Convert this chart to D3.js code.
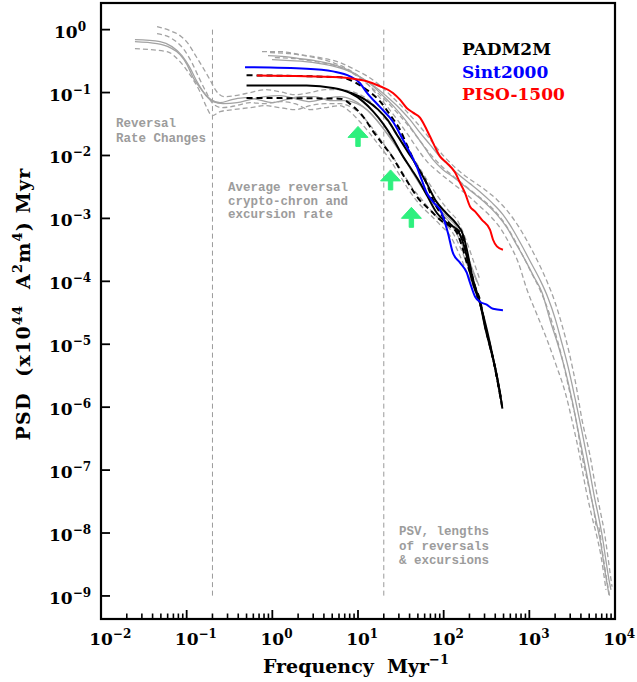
<!DOCTYPE html>
<html>
<head>
<meta charset="utf-8">
<script src="https://cdn.jsdelivr.net/npm/d3@7"></script>
<style>
  body { margin: 0; background: #fff; }
  svg { display: block; }
  text { white-space: pre; }
</style>
</head>
<body>
<svg id="chart" width="637" height="682"></svg>
<script>
// ---------------- data ----------------
// Axis decades (log10 exponents)
const xTickExponents = [-2, -1, 0, 1, 2, 3, 4];
const yTickExponents = [0, -1, -2, -3, -4, -5, -6, -7, -8, -9];

// Regime boundaries (Myr^-1)
const boundaryFreqs = [0.2, 20];

// Green arrows: frequency and PSD of each tip
const arrowFreqs = [10, 24, 42];
const arrowPsd = [0.029, 0.0059, 0.0015];

// Legend
const legendNames = ["PADM2M", "Sint2000", "PISO-1500"];
const legendColors = ["#000000", "#0000ff", "#ff0000"];

// [frequency Myr^-1, PSD] pairs
const sint2000 = [[0.48,0.253],[2.52,0.240],[5.1,0.217],[8.06,0.181],[10.5,0.142],[12.6,0.101],[18.1,0.0586],[25.6,0.0344],[33.5,0.0178],[40.4,0.0111],[48.4,0.00671],[55.3,0.00412],[63.4,0.00256],[75.0,0.00184],[94.8,0.00123],[112,0.000593],[128,0.000285],[155,0.000198],[186,0.000137],[203,9.5e-5],[232,5.75e-5],[265,4.74e-5],[318,4.25e-5],[377,3.66e-5],[492,3.48e-5]];

const piso1500 = [[0.66,0.186],[6.16,0.175],[8.75,0.166],[12.6,0.151],[18.1,0.126],[25.6,0.0986],[30.9,0.0771],[37.0,0.0569],[43.9,0.0479],[52.9,0.0399],[63.4,0.0257],[75.0,0.0160],[90.6,0.00968],[108,0.00769],[136,0.00534],[155,0.00370],[177,0.00256],[203,0.00155],[232,0.00129],[278,0.000953],[347,0.000661],[377,0.000458],[418,0.000359],[492,0.000318]];

const padm2m = [[0.50,0.130],[2.52,0.129],[5.1,0.118],[8.06,0.0986],[11.4,0.0724],[15.0,0.0502],[19.6,0.0321],[25.6,0.0185],[33.5,0.00968],[42.4,0.00594],[52.9,0.00370],[64.7,0.00224],[82.9,0.00123],[108,0.000855],[143,0.000661],[164,0.000458],[186,0.000249],[203,0.000137],[232,7.35e-5],[265,4.57e-5],[303,1.92e-5],[347,9.2e-6],[397,4.44e-6],[454,1.69e-6],[474,1.17e-6]];

const padm2mAlt = [[8.06,0.100],[12.1,0.0771],[17.2,0.0535],[22.5,0.0357],[28.9,0.0206],[38.0,0.0115],[49.4,0.00664],[62.8,0.00370],[81.0,0.00190],[106,0.00123],[140,0.000828],[170,0.000530],[192,0.000265],[213,0.000127],[243,6.8e-5],[279,3.54e-5],[319,1.70e-5],[364,7.6e-6],[413,3.3e-6],[464,1.45e-6]];

const padm2mUpper = [[0.50,0.188],[6.16,0.175],[8.75,0.151],[12.6,0.111],[18.1,0.0724],[23.6,0.0445],[30.9,0.0257],[38.0,0.0138],[48.4,0.00671],[60.5,0.00412],[75.0,0.00198],[90.6,0.00123],[128,0.000746],[164,0.000551],[177,0.000359],[203,0.000173],[232,8.3e-5],[265,5.1e-5],[303,2.04e-5],[347,9.8e-6],[397,4.2e-6],[440,2.03e-6],[485,9.8e-7]];

const padm2mLower = [[0.50,0.0820],[6.16,0.0800],[8.75,0.0605],[11.4,0.0420],[15.0,0.0242],[19.6,0.0149],[25.6,0.00922],[30.9,0.00594],[40.4,0.00330],[50.5,0.00208],[69.2,0.00137],[90.6,0.000953],[119,0.000746],[143,0.000590],[164,0.000359],[186,0.000197],[218,0.000106],[247,5.75e-5],[278,3.54e-5],[311,1.70e-5],[355,8.18e-6],[406,3.74e-6],[454,1.58e-6],[492,8.5e-7]];

// Comparison spectra, long time-scale records
const longRec1 = [[0.0249,0.645],[0.0451,0.599],[0.0639,0.518],[0.0836,0.401],[0.101,0.278],[0.119,0.173],[0.143,0.120],[0.172,0.0861],[0.203,0.0717],[0.266,0.0666],[0.387,0.0691],[0.548,0.0771],[0.821,0.0861],[1.23,0.0893],[1.84,0.0800],[2.75,0.0717],[4.12,0.0800],[6.16,0.0861],[8.51,0.0771],[11.1,0.0619],[14.6,0.0445],[19.0,0.0288],[24.9,0.0178],[32.6,0.0103],[42.7,0.00553],[55.8,0.00309],[73.0,0.00184],[95.5,0.00119],[125,0.000770],[164,0.000382],[203,0.000184],[245,9.86e-5]];
const longRec2 = [[0.0451,1.12],[0.0639,0.964],[0.0836,0.803],[0.104,0.599],[0.125,0.401],[0.155,0.249],[0.187,0.160],[0.220,0.107],[0.273,0.0861],[0.366,0.0893],[0.548,0.0996],[0.821,0.111],[1.23,0.103],[1.84,0.0926],[2.75,0.0996],[4.12,0.111],[6.16,0.111],[9.22,0.0996],[13.1,0.0771],[17.1,0.0535],[22.4,0.0344],[29.3,0.0206],[38.3,0.0124],[50.1,0.00696],[65.6,0.00384],[85.9,0.00222],[112,0.00137],[147,0.000893],[182,0.000458],[220,0.000221],[265,0.000106]];
const longRec3 = [[0.0249,0.499],[0.0589,0.447],[0.0836,0.310],[0.109,0.193],[0.143,0.103],[0.172,0.0575],[0.198,0.0429],[0.245,0.0497],[0.347,0.0535],[0.548,0.0575],[0.821,0.0619],[1.23,0.0575],[1.84,0.0535],[2.75,0.0619],[4.12,0.0666],[6.16,0.0666],[8.51,0.0575],[11.1,0.0429],[14.6,0.0276],[19.0,0.0166],[24.9,0.00999],[32.6,0.00553],[42.7,0.00309],[55.8,0.00198],[73.0,0.00128],[95.5,0.000887],[125,0.000617],[164,0.000296],[203,0.000142],[238,7.9e-5]];
const longRec4 = [[0.0249,0.693],[0.0489,0.645],[0.0674,0.537],[0.0882,0.386],[0.109,0.249],[0.132,0.149],[0.159,0.0996],[0.192,0.0771],[0.245,0.0691],[0.338,0.0771],[0.480,0.0831],[0.680,0.0771],[0.991,0.0691],[1.44,0.0771],[2.10,0.0861],[3.15,0.0861],[4.71,0.0743],[7.05,0.0743],[9.73,0.0666],[12.7,0.0535],[16.7,0.0357],[21.8,0.0222],[28.5,0.0133],[37.3,0.00769],[48.8,0.00428],[63.9,0.00249],[83.6,0.00153],[109,0.00106],[143,0.000713],[177,0.000341],[214,0.000164],[258,8.5e-5]];
const longRec5 = [[0.0451,0.864],[0.0674,0.719],[0.0931,0.481],[0.115,0.299],[0.139,0.173],[0.168,0.103],[0.203,0.0666],[0.259,0.0575],[0.377,0.0619],[0.548,0.0691],[0.821,0.0666],[1.23,0.0717],[1.84,0.0666],[2.75,0.0535],[4.12,0.0575],[6.16,0.0619],[8.06,0.0497],[10.5,0.0344],[13.8,0.0222],[18.1,0.0138],[23.6,0.00857],[30.9,0.00477],[40.4,0.00266],[52.9,0.00165],[69.2,0.00115],[90.6,0.000794],[119,0.000530],[155,0.000255],[192,0.000127],[232,7.35e-5]];

// Comparison spectra, short time-scale records
const shortRec1 = [[0.890,0.386],[1.41,0.372],[2.10,0.346],[3.15,0.321],[4.71,0.288],[7.05,0.240],[10.0,0.186],[13.8,0.139],[19.0,0.0926],[26.3,0.0597],[35.3,0.0371],[46.2,0.0222],[58.9,0.0138],[75.1,0.00857],[98.2,0.00594],[128,0.00459],[168,0.00343],[220,0.00256],[303,0.00178],[419,0.00115],[548,0.000714],[698,0.000397],[889,0.000221],[1130,0.000118],[1410,6.6e-5],[1740,2.45e-5],[2160,9.8e-6],[2610,3.94e-6],[3150,1.31e-6],[3800,3.6e-7],[4580,1.0e-7],[5390,3.2e-8],[6160,1.35e-8],[6860,6.5e-9],[7440,3.1e-9],[8060,1.6e-9],[8510,1.04e-9]];
const shortRec2 = [[0.991,0.334],[1.61,0.321],[2.41,0.310],[3.60,0.288],[5.39,0.258],[8.06,0.215],[11.4,0.166],[15.8,0.124],[21.8,0.0861],[30.1,0.0575],[40.4,0.0371],[52.9,0.0231],[69.2,0.0149],[90.6,0.00954],[119,0.00662],[155,0.00478],[203,0.00357],[265,0.00266],[366,0.00178],[492,0.00115],[644,0.000661],[820,0.000367],[1045,0.000197],[1330,0.000106],[1650,5.5e-5],[1990,2.63e-5],[2340,1.18e-5],[2830,4.4e-6],[3410,1.40e-6],[4120,4.1e-7],[4970,1.1e-7],[5840,3.37e-8],[6500,1.7e-8],[7240,7.6e-9],[7850,3.6e-9],[8510,1.8e-9],[8980,1.25e-9]];
const shortRec3 = [[0.939,0.431],[1.61,0.415],[2.75,0.372],[4.71,0.310],[7.05,0.249],[10.0,0.186],[13.1,0.134],[17.1,0.0894],[22.4,0.0575],[29.3,0.0357],[38.3,0.0214],[50.1,0.0124],[65.6,0.00769],[85.9,0.00553],[112,0.00412],[147,0.00309],[192,0.00231],[252,0.00165],[347,0.00110],[454,0.000714],[594,0.000382],[737,0.000205],[939,7.35e-5],[1230,2.94e-5],[1610,1.18e-5],[2050,4.7e-6],[2610,1.76e-6],[3230,5.3e-7],[3900,1.6e-7],[4580,4.9e-8],[5390,1.8e-8],[6160,8.7e-9],[6860,4.3e-9],[7440,2.1e-9],[7850,1.25e-9]];
const shortRec4 = [[0.757,0.447],[1.23,0.447],[2.10,0.401],[3.60,0.359],[6.16,0.299],[9.22,0.231],[13.1,0.179],[18.1,0.129],[24.9,0.0861],[34.4,0.0555],[46.2,0.0357],[60.5,0.0231],[79.2,0.0143],[104,0.00925],[136,0.00643],[177,0.00478],[232,0.00369],[303,0.00286],[419,0.00198],[563,0.00128],[737,0.000770],[965,0.000412],[1260,0.000205],[1610,9.9e-5],[1990,4.7e-5],[2400,2.04e-5],[2900,7.6e-6],[3500,2.27e-6],[4120,6.3e-7],[5110,1.7e-7],[6000,4.9e-8],[6680,2.34e-8],[7440,1.12e-8],[8060,5.4e-9],[8730,2.4e-9],[9230,1.4e-9]];
const shortRec5 = [[1.07,0.359],[1.84,0.346],[3.15,0.310],[5.39,0.268],[8.06,0.215],[11.1,0.160],[15.4,0.111],[21.2,0.0743],[29.3,0.0463],[40.4,0.0277],[52.9,0.0171],[69.2,0.0107],[90.6,0.00714],[119,0.00515],[155,0.00385],[203,0.00286],[265,0.00215],[366,0.00147],[492,0.000911],[644,0.000507],[820,0.000272],[1045,0.000141],[1330,7.35e-5],[1650,3.54e-5],[1990,1.58e-5],[2400,6.2e-6],[2900,1.97e-6],[3500,6.3e-7],[4120,1.7e-7],[4970,5.2e-8],[5690,2.2e-8],[6000,1.35e-8],[6500,1.2e-8],[7050,5.6e-9],[7640,2.7e-9],[8280,1.4e-9],[8730,9.3e-10]];

const greyRecords = [longRec1, longRec2, longRec3, longRec4, longRec5,
                     shortRec1, shortRec2, shortRec3, shortRec4, shortRec5];
const greyDashed = [false, true, true, false, true, false, false, true, true, true];

// ---------------- layout ----------------
const svg = d3.select("#chart");
const plot = { left: 101, right: 615, top: 3, bottom: 619 };
const serif = "'DejaVu Serif', 'Liberation Serif', serif";
const mono = "'Liberation Mono', 'DejaVu Sans Mono', monospace";
const MINUS = "\u2212";

const x = d3.scaleLog().domain([1e-2, 1e4]).range([plot.left, plot.right]);
const y = d3.scaleLog().domain([4.3e-10, 2.65]).range([plot.bottom, plot.top]);

const line = d3.line()
  .x(d => x(d[0]))
  .y(d => y(d[1]))
  .curve(d3.curveMonotoneX);

const marks = svg.append("g");

// Regime boundaries
marks.selectAll("line.boundary")
  .data(boundaryFreqs)
  .join("line")
  .attr("class", "boundary")
  .attr("x1", d => x(d)).attr("x2", d => x(d))
  .attr("y1", y(1)).attr("y2", y(1e-9))
  .attr("stroke", "#9a9a9a")
  .attr("stroke-width", 1)
  .attr("stroke-dasharray", "5,3.5");

// Grey comparison spectra
greyRecords.forEach((rec, i) => {
  marks.append("path")
    .attr("d", line(rec))
    .attr("fill", "none")
    .attr("stroke", "#a3a3a3")
    .attr("stroke-width", 1.3)
    .attr("stroke-dasharray", greyDashed[i] ? "5,3" : null);
});

// PADM2M with bounds
[padm2mUpper, padm2mLower].forEach(rec => {
  marks.append("path")
    .attr("d", line(rec))
    .attr("fill", "none")
    .attr("stroke", "#000")
    .attr("stroke-width", 2)
    .attr("stroke-dasharray", "6,4");
});
[padm2m, padm2mAlt].forEach(rec => {
  marks.append("path")
    .attr("d", line(rec))
    .attr("fill", "none")
    .attr("stroke", "#000")
    .attr("stroke-width", 2);
});

// Sint2000 and PISO-1500
marks.append("path")
  .attr("d", line(sint2000))
  .attr("fill", "none")
  .attr("stroke", "#0000ff")
  .attr("stroke-width", 2);
marks.append("path")
  .attr("d", line(piso1500))
  .attr("fill", "none")
  .attr("stroke", "#ff0000")
  .attr("stroke-width", 2);

// Green arrows pointing up
const arrowShape = "M0,0 L10,11 L2.2,11 L2.2,20 L-2.2,20 L-2.2,11 L-10,11 Z";
marks.selectAll("path.arrow")
  .data(arrowFreqs.map((f, i) => [f, arrowPsd[i]]))
  .join("path")
  .attr("class", "arrow")
  .attr("d", arrowShape)
  .attr("transform", d => `translate(${x(d[0])},${y(d[1])})`)
  .attr("fill", "#2ef07e")
  .attr("stroke", "#2ef07e")
  .attr("stroke-width", 1)
  .attr("stroke-linejoin", "round");

// ---------------- axes ----------------
const axes = svg.append("g");

// Frame
axes.append("rect")
  .attr("x", plot.left).attr("y", plot.top)
  .attr("width", plot.right - plot.left).attr("height", plot.bottom - plot.top)
  .attr("fill", "none").attr("stroke", "#000").attr("stroke-width", 2.2);

// x ticks: decades and 2..9 minor ticks, drawn inward
const xMinor = [];
xTickExponents.slice(0, -1).forEach(e => {
  for (let m = 2; m <= 9; m++) xMinor.push(m * Math.pow(10, e));
});
axes.selectAll("line.xminor")
  .data(xMinor).join("line")
  .attr("x1", d => x(d)).attr("x2", d => x(d))
  .attr("y1", plot.bottom).attr("y2", plot.bottom - 5.5)
  .attr("stroke", "#000").attr("stroke-width", 1.6);
axes.selectAll("line.xmajor")
  .data(xTickExponents).join("line")
  .attr("x1", e => x(Math.pow(10, e))).attr("x2", e => x(Math.pow(10, e)))
  .attr("y1", plot.bottom).attr("y2", plot.bottom - 9)
  .attr("stroke", "#000").attr("stroke-width", 1.8);

// y ticks
axes.selectAll("line.ymajor")
  .data(yTickExponents).join("line")
  .attr("x1", plot.left).attr("x2", plot.left + 9)
  .attr("y1", e => y(Math.pow(10, e))).attr("y2", e => y(Math.pow(10, e)))
  .attr("stroke", "#000").attr("stroke-width", 1.8);

const expText = e => (e < 0 ? MINUS + Math.abs(e) : String(e));

// x tick labels: "10" centred on the tick, exponent to its right
xTickExponents.forEach(e => {
  const t = axes.append("text")
    .attr("x", x(Math.pow(10, e))).attr("y", 645)
    .attr("font-family", serif).attr("font-weight", "bold")
    .attr("font-size", 17).attr("fill", "#000");
  const base = t.append("tspan").text("10");
  t.append("tspan").attr("dy", -7).attr("font-size", 12).text(expText(e));
  const w = base.node().getComputedTextLength();
  t.attr("x", x(Math.pow(10, e)) - w / 2);
});

// y tick labels
yTickExponents.forEach(e => {
  const t = axes.append("text")
    .attr("x", 70).attr("y", y(Math.pow(10, e)) + 8)
    .attr("text-anchor", "middle")
    .attr("font-family", serif).attr("font-weight", "bold")
    .attr("font-size", 17).attr("fill", "#000");
  t.append("tspan").text("10");
  t.append("tspan").attr("dy", -7).attr("font-size", 12).text(expText(e));
});

// Axis titles
const xt = axes.append("text")
  .attr("x", 356).attr("y", 673)
  .attr("text-anchor", "middle")
  .attr("font-family", serif).attr("font-weight", "bold")
  .attr("font-size", 19).attr("fill", "#000");
xt.append("tspan").text("Frequency  Myr");
xt.append("tspan").attr("dy", -9).attr("font-size", 13).text(MINUS + "1");

const yt = axes.append("text")
  .attr("transform", "translate(30,304) rotate(-90)")
  .attr("text-anchor", "middle")
  .attr("font-family", serif).attr("font-weight", "bold")
  .attr("font-size", 19).attr("letter-spacing", 1.2).attr("fill", "#000");
yt.append("tspan").text("PSD  (x10");
yt.append("tspan").attr("dy", -8).attr("font-size", 13).text("44");
yt.append("tspan").attr("dy", 8).text("  A");
yt.append("tspan").attr("dy", -8).attr("font-size", 13).text("2");
yt.append("tspan").attr("dy", 8).text("m");
yt.append("tspan").attr("dy", -8).attr("font-size", 13).text("4");
yt.append("tspan").attr("dy", 8).text(") Myr");

// Legend
legendNames.forEach((name, i) => {
  axes.append("text")
    .attr("x", 462).attr("y", 55 + i * 22.5)
    .attr("font-family", serif).attr("font-weight", "bold")
    .attr("font-size", 17).attr("fill", legendColors[i])
    .text(name);
});

// Regime annotations
const notes = [
  { x: 116, y: 127, lines: ["Reversal", "Rate Changes"], gap: 15 },
  { x: 228, y: 191, lines: ["Average reversal", "crypto-chron and", "excursion rate"], gap: 13.5 },
  { x: 399, y: 535, lines: ["PSV, lengths", "of reversals", "& excursions"], gap: 14.5 }
];
notes.forEach(n => {
  n.lines.forEach((s, i) => {
    axes.append("text")
      .attr("x", n.x).attr("y", n.y + i * n.gap)
      .attr("font-family", mono).attr("font-weight", "bold")
      .attr("font-size", 12.5).attr("fill", "#9c9c9c")
      .text(s);
  });
});
</script>
</body>
</html>
